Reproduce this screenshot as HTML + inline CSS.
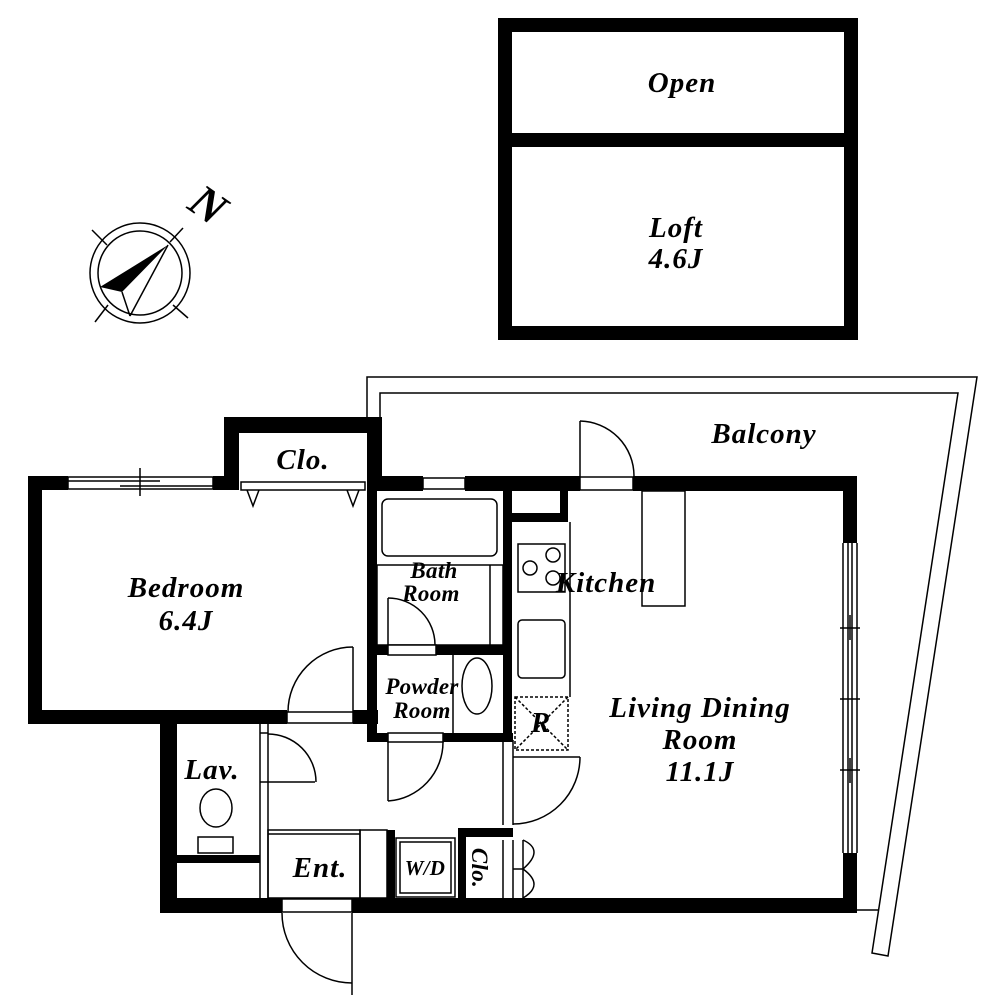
<!DOCTYPE html>
<html><head><meta charset="utf-8"><style>
html,body{margin:0;padding:0;background:#fff}
svg{display:block}
text{font-family:"Liberation Serif",serif;font-style:italic;font-weight:bold;fill:#000;text-anchor:middle}
</style></head><body>
<svg width="1000" height="1000" viewBox="0 0 1000 1000" xmlns="http://www.w3.org/2000/svg">
<g fill="none" stroke="#000" stroke-width="1.5">
<rect x="505" y="25" width="346" height="308" stroke-width="14"/>
<rect x="505" y="133" width="346" height="14" fill="#000" stroke="none"/>
<polyline points="367,417 367,377 977,377 888,956 872,953 958,393 380,393 380,417"/>
<line x1="857" y1="910" x2="878" y2="910"/>
</g>
<g fill="#000">
<rect x="28" y="476" width="40" height="14"/>
<rect x="28" y="476" width="14" height="248"/>
<rect x="28" y="710" width="259" height="14"/>
<rect x="353" y="710" width="25" height="14"/>
<rect x="213" y="476" width="26" height="14"/>
<rect x="224" y="417" width="158" height="16"/>
<rect x="224" y="417" width="15" height="73"/>
<rect x="367" y="417" width="15" height="73"/>
<rect x="367" y="476" width="56" height="15"/>
<rect x="465" y="476" width="115" height="15"/>
<rect x="633" y="476" width="224" height="15"/>
<rect x="843" y="476" width="14" height="67"/>
<rect x="843" y="853" width="14" height="60"/>
<rect x="160" y="898" width="122" height="15"/>
<rect x="352" y="898" width="505" height="15"/>
<rect x="160" y="718" width="17" height="195"/>
<rect x="367" y="490" width="10" height="252"/>
<rect x="503" y="490" width="9" height="250"/>
<rect x="377" y="645" width="11" height="10"/>
<rect x="436" y="645" width="67" height="10"/>
<rect x="367" y="733" width="21" height="9"/>
<rect x="443" y="733" width="70" height="9"/>
<rect x="512" y="513" width="56" height="9"/>
<rect x="560" y="490" width="8" height="32"/>
<rect x="387" y="830" width="8" height="70"/>
<rect x="458" y="828" width="8" height="72"/>
<rect x="458" y="828" width="55" height="9"/>
<rect x="177" y="855" width="83" height="8"/>
</g>
<g fill="none" stroke="#000" stroke-width="1.5">
<rect x="68" y="477" width="145" height="12"/>
<line x1="68" y1="481" x2="160" y2="481"/><line x1="120" y1="486" x2="213" y2="486"/>
<line x1="140" y1="468" x2="140" y2="496"/>
<rect x="241" y="482" width="124" height="8"/>
<polyline points="247,490 253,506 259,490"/><polyline points="347,490 353,506 359,490"/>
<rect x="423" y="478" width="42" height="11"/>
<rect x="382" y="499" width="115" height="57" rx="6"/>
<rect x="377" y="565" width="126" height="80"/>
<line x1="490" y1="565" x2="490" y2="645"/>
<line x1="388" y1="598" x2="388" y2="645"/><path d="M388,598 A47,47 0 0 1 435,645"/>
<rect x="388" y="645" width="48" height="10" fill="#fff"/>
<line x1="453" y1="655" x2="453" y2="733"/>
<ellipse cx="477" cy="686" rx="15" ry="28"/>
<rect x="388" y="733" width="55" height="9" fill="#fff"/>
<line x1="388" y1="742" x2="388" y2="801"/><path d="M388,801 A59,59 0 0 0 443,742"/>
<line x1="570" y1="522" x2="570" y2="697"/>
<rect x="518" y="544" width="47" height="48"/>
<circle cx="553" cy="555" r="7"/><circle cx="530" cy="568" r="7"/><circle cx="553" cy="578" r="7"/>
<rect x="518" y="620" width="47" height="58" rx="4"/>
<rect x="515" y="697" width="53" height="53" stroke-dasharray="3,2"/>
<line x1="515" y1="697" x2="568" y2="750" stroke-dasharray="3,2"/><line x1="568" y1="697" x2="515" y2="750" stroke-dasharray="3,2"/>
<rect x="642" y="491" width="43" height="115"/>
<rect x="580" y="477" width="53" height="13" fill="#fff"/>
<line x1="580" y1="477" x2="580" y2="421"/><path d="M580,421 A55,55 0 0 1 634,476"/>
<line x1="843" y1="543" x2="843" y2="853"/><line x1="848" y1="543" x2="848" y2="853"/>
<line x1="852" y1="543" x2="852" y2="853"/><line x1="857" y1="543" x2="857" y2="853"/>
<line x1="840" y1="628" x2="860" y2="628"/><line x1="840" y1="699" x2="860" y2="699"/><line x1="840" y1="770" x2="860" y2="770"/>
<line x1="850" y1="615" x2="850" y2="640"/><line x1="850" y1="758" x2="850" y2="783"/>
<rect x="287" y="712" width="66" height="11" fill="#fff"/>
<line x1="353" y1="712" x2="353" y2="647"/><path d="M353,647 A65,65 0 0 0 288,712"/>
<line x1="260" y1="724" x2="260" y2="898"/><line x1="268" y1="724" x2="268" y2="898"/>
<line x1="260" y1="733" x2="268" y2="733"/><line x1="260" y1="782" x2="268" y2="782"/>
<line x1="268" y1="782" x2="315" y2="782"/><path d="M268,734 A48,48 0 0 1 316,782"/>
<ellipse cx="216" cy="808" rx="16" ry="19"/>
<rect x="198" y="837" width="35" height="16"/>
<rect x="268" y="830" width="92" height="68"/>
<line x1="268" y1="834" x2="360" y2="834"/>
<rect x="360" y="830" width="27" height="68"/>
<rect x="396" y="838" width="59" height="59"/><rect x="400" y="842" width="51" height="51"/>
<rect x="282" y="899" width="70" height="13" fill="#fff"/>
<line x1="352" y1="913" x2="352" y2="995"/><path d="M282,913 A70,70 0 0 0 352,983"/>
<line x1="503" y1="740" x2="503" y2="825"/><line x1="513" y1="740" x2="513" y2="825"/>
<line x1="513" y1="757" x2="580" y2="757"/><path d="M580,757 A67,67 0 0 1 513,824"/>
<line x1="503" y1="840" x2="503" y2="898"/><line x1="513" y1="840" x2="513" y2="898"/><line x1="523" y1="840" x2="523" y2="898"/>
<line x1="513" y1="869" x2="523" y2="869"/>
<path d="M523,840 Q545,850 523,869"/><path d="M523,898 Q545,885 523,869"/>
<circle cx="140" cy="273" r="50"/><circle cx="140" cy="273" r="42"/>
<line x1="92" y1="230" x2="107" y2="245"/><line x1="183" y1="228" x2="170" y2="242"/>
<line x1="95" y1="322" x2="108" y2="305"/><line x1="188" y1="318" x2="173" y2="305"/>
<line x1="168" y1="245" x2="130" y2="316"/><line x1="122" y1="292" x2="130" y2="316"/>
</g>
<polygon points="168,245 100,287 122,292" fill="#000"/>
<text x="208" y="220" font-size="46" font-style="normal" transform="rotate(35 208 205)">N</text>
<g font-size="29" letter-spacing="1">
<text x="682" y="92">Open</text>
<text x="676" y="237">Loft</text>
<text x="676" y="268">4.6J</text>
<text x="764" y="443">Balcony</text>
<text x="303" y="469">Clo.</text>
<text x="186" y="597">Bedroom</text>
<text x="186" y="630">6.4J</text>
<text x="606" y="592">Kitchen</text>
<text x="700" y="717">Living Dining</text>
<text x="700" y="749">Room</text>
<text x="700" y="781">11.1J</text>
<text x="212" y="779">Lav.</text>
<text x="320" y="877">Ent.</text>
<text x="541" y="732">R</text>
</g>
<g font-size="23" letter-spacing="0.3">
<text x="434" y="578">Bath</text>
<text x="431" y="601">Room</text>
<text x="422" y="694">Powder</text>
<text x="422" y="718">Room</text>
<text x="425" y="875" font-size="21">W/D</text>
<text x="0" y="0" transform="translate(472,868) rotate(90)">Clo.</text>
</g>
</svg>
</body></html>
